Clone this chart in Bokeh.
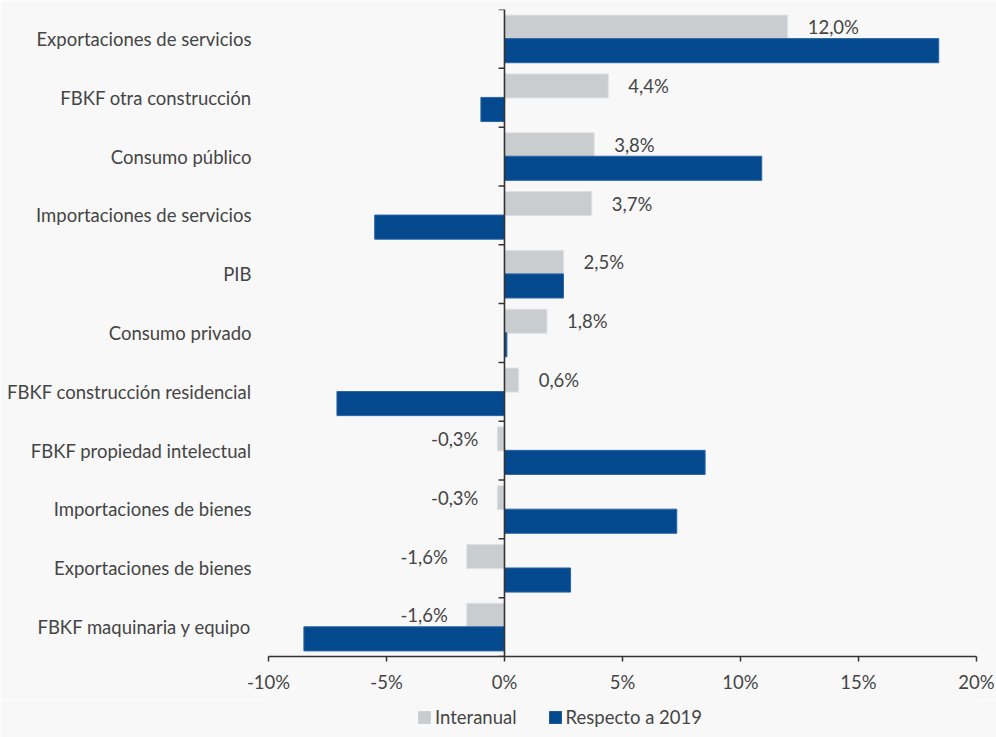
from bokeh.plotting import figure
from bokeh.layouts import column
from bokeh.models import (ColumnDataSource, FactorRange, Range1d, FixedTicker,
                          PrintfTickFormatter, Span, Legend, LegendItem)
from bokeh.transform import dodge
from bokeh.core.properties import value
from bokeh.embed import file_html
from bokeh.resources import INLINE

categories = ["Exportaciones de servicios", "FBKF otra construcción", "Consumo público",
              "Importaciones de servicios", "PIB", "Consumo privado",
              "FBKF construcción residencial", "FBKF propiedad intelectual",
              "Importaciones de bienes", "Exportaciones de bienes", "FBKF maquinaria y equipo"]
interanual = [12.0, 4.4, 3.8, 3.7, 2.5, 1.8, 0.6, -0.3, -0.3, -1.6, -1.6]
respecto_2019 = [18.4, -1.0, 10.9, -5.5, 2.5, 0.1, -7.1, 8.5, 7.3, 2.8, -8.5]
x_ticks = [-10, -5, 0, 5, 10, 15, 20]
series_names = ["Interanual", "Respecto a 2019"]

FONT = "Lato"
FS = "18.5px"
TXT = "#454545"
GRAY = "#c9cdd0"
BLUE = "#04498d"
BG = "#f8f8f8"

labels = [f"{v:.1f}".replace(".", ",") + "%" for v in interanual]
src = ColumnDataSource(dict(cat=categories, inter=interanual, resp=respecto_2019, lab=labels))
pos = ColumnDataSource(dict(cat=[c for c, v in zip(categories, interanual) if v >= 0],
                            inter=[v for v in interanual if v >= 0],
                            lab=[l for l, v in zip(labels, interanual) if v >= 0]))
neg = ColumnDataSource(dict(cat=[c for c, v in zip(categories, interanual) if v < 0],
                            inter=[v for v in interanual if v < 0],
                            lab=[l for l, v in zip(labels, interanual) if v < 0]))

p = figure(frame_width=708, frame_height=647, output_backend="svg", toolbar_location=None,
           y_range=FactorRange(factors=list(reversed(categories))),
           x_range=Range1d(x_ticks[0], x_ticks[-1]),
           min_border_left=268, min_border_right=20, min_border_top=9, min_border_bottom=44)
p.background_fill_color = BG
p.border_fill_color = BG
p.outline_line_color = None
p.grid.visible = False

r_gray = p.hbar(y=dodge("cat", 0.2, range=p.y_range), left=0, right="inter", height=0.41,
                source=src, fill_color=GRAY, line_color="#dfe2e4", line_width=1)
r_blue = p.hbar(y=dodge("cat", -0.2, range=p.y_range), left=0, right="resp", height=0.41,
                source=src, fill_color=BLUE, line_color="#2a66a8", line_width=1)

p.text(x="inter", y=dodge("cat", 0.2, range=p.y_range), text="lab", source=pos,
       x_offset=20, text_align="left", text_baseline="middle",
       text_font=value(FONT), text_font_size=FS, text_color=TXT)
p.text(x="inter", y=dodge("cat", 0.2, range=p.y_range), text="lab", source=neg,
       x_offset=-19, text_align="right", text_baseline="middle",
       text_font=value(FONT), text_font_size=FS, text_color=TXT)

# zero line with category-boundary ticks
p.add_layout(Span(location=0, dimension="height", line_color="#333333", line_width=1.6))
n = len(categories)
p.segment(x0=[0] * (n + 1), x1=[-0.25] * (n + 1), y0=list(range(n + 1)), y1=list(range(n + 1)),
          line_color="#333333", line_width=1.5)

# axes
p.xaxis.ticker = FixedTicker(ticks=x_ticks)
p.xaxis.formatter = PrintfTickFormatter(format="%d%%")
p.xaxis.axis_line_color = "#333333"
p.xaxis.axis_line_width = 1.6
p.xaxis.major_tick_line_color = "#333333"
p.xaxis.major_tick_line_width = 1.5
p.xaxis.major_tick_out = 5
p.xaxis.major_tick_in = 0
p.xaxis.minor_tick_line_color = None
p.xaxis.major_label_text_font = FONT
p.xaxis.major_label_text_font_size = FS
p.xaxis.major_label_text_color = TXT
p.xaxis.major_label_standoff = 9

p.yaxis.axis_line_color = None
p.yaxis.major_tick_line_color = None
p.yaxis.minor_tick_line_color = None
p.yaxis.major_label_text_font = FONT
p.yaxis.major_label_text_font_size = FS
p.yaxis.major_label_text_color = TXT
p.yaxis.major_label_standoff = 11

# legend strip below the chart (its frame is aligned with the chart's frame)
q = figure(width=996, height=37, output_backend="svg", toolbar_location=None,
           x_axis_type=None, y_axis_type=None, min_border=0,
           x_range=Range1d(0, 1), y_range=Range1d(0, 1))
q.background_fill_color = BG
q.border_fill_color = BG
q.outline_line_color = None
q.grid.visible = False
lg_gray = q.hbar(y=[0.5], left=[0], right=[0], height=0, fill_color=GRAY, line_color=None)
lg_blue = q.hbar(y=[0.5], left=[0], right=[0], height=0, fill_color=BLUE, line_color=None)
legend = Legend(items=[LegendItem(label=series_names[0], renderers=[lg_gray]),
                       LegendItem(label=series_names[1], renderers=[lg_blue])],
                orientation="horizontal", location=(148, 9),
                label_text_font=FONT, label_text_font_size=FS, label_text_color=TXT,
                glyph_width=16, glyph_height=16, label_standoff=3, spacing=30,
                border_line_color=None, background_fill_alpha=0, margin=0, padding=0)
q.add_layout(legend, "center")

layout = column(p, q, spacing=0)
open("out.html", "w").write(file_html(layout, INLINE))
